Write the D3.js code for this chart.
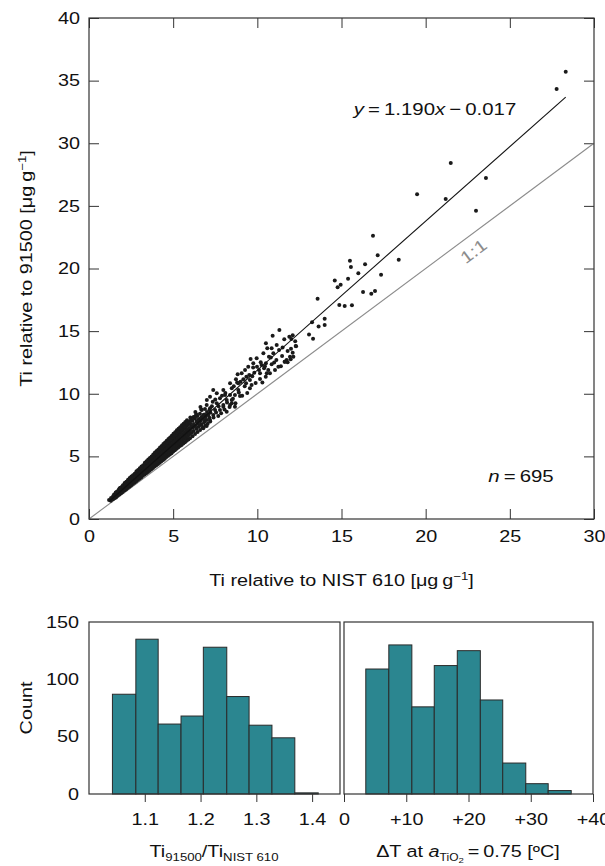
<!DOCTYPE html>
<html>
<head>
<meta charset="utf-8">
<script src="https://cdn.jsdelivr.net/npm/d3@7"></script>
<style>
  body { margin: 0; background: #fff; }
  svg { display: block; font-family: "Liberation Sans", Arial, Helvetica, sans-serif; }
</style>
</head>
<body>
<div id="chart"></div>
<script>
// Ti relative to NIST 610 (x) vs Ti relative to 91500 (y)
var scatterPoints = [
  // dense band at low concentration
  [1.19,1.52],[1.3,1.45],[1.31,1.68],[1.42,1.58],[1.43,1.82],[1.5,1.65],[1.49,1.95],[1.52,1.78],
  [1.6,1.72],[1.61,1.9],[1.59,2.12],[1.7,1.85],[1.69,2.05],[1.72,2.2],[1.8,1.95],[1.81,2.12],
  [1.79,2.36],[1.82,2.45],[1.9,2.05],[1.91,2.3],[1.88,2.5],[2.0,2.15],[2.01,2.36],[1.99,2.5],
  [2.02,2.7],[2.1,2.28],[2.11,2.5],[2.09,2.7],[2.12,2.88],[2.2,2.36],[2.21,2.6],[2.19,2.78],
  [2.22,2.98],[2.3,2.48],[2.31,2.72],[2.29,2.95],[2.32,3.14],[2.4,2.58],[2.41,2.85],[2.39,3.05],
  [2.42,3.28],[2.5,2.68],[2.51,2.9],[2.49,3.12],[2.52,3.4],[2.6,2.8],[2.61,3.06],[2.59,3.32],
  [2.62,3.5],[2.7,2.9],[2.71,3.15],[2.69,3.35],[2.72,3.62],[2.8,3.0],[2.81,3.3],[2.79,3.55],
  [2.82,3.82],[2.9,3.12],[2.91,3.38],[2.89,3.65],[2.92,3.92],[3.0,3.22],[3.01,3.5],[2.99,3.75],
  [3.02,4.05],[3.1,3.32],[3.11,3.62],[3.09,3.9],[3.12,4.2],[3.2,3.45],[3.21,3.75],[3.19,4.05],
  [3.22,4.3],[3.3,3.55],[3.31,3.9],[3.29,4.15],[3.32,4.5],[3.4,3.65],[3.41,3.98],[3.39,4.3],
  [3.42,4.62],[3.5,3.75],[3.51,4.1],[3.49,4.4],[3.52,4.75],[3.6,3.86],[3.61,4.2],[3.59,4.55],
  [3.62,4.88],[3.7,3.98],[3.71,4.35],[3.69,4.68],[3.72,5.0],[3.8,4.08],[3.81,4.45],[3.79,4.8],
  [3.82,5.15],[3.9,4.2],[3.91,4.58],[3.89,4.92],[3.92,5.3],[4.0,4.3],[4.01,4.7],[3.99,5.05],
  [4.02,5.42],[4.1,4.4],[4.11,4.82],[4.09,5.18],[4.12,5.55],[4.2,4.5],[4.21,4.95],[4.19,5.3],
  [4.22,5.7],[4.3,4.62],[4.31,5.05],[4.29,5.45],[4.32,5.82],[4.4,4.72],[4.41,5.2],[4.39,5.6],
  [4.42,5.98],[4.5,4.82],[4.51,5.3],[4.49,5.7],[4.52,6.1],[4.6,4.95],[4.61,5.45],[4.59,5.85],
  [4.62,6.25],[4.7,5.05],[4.71,5.55],[4.69,5.98],[4.72,6.38],[4.8,5.15],[4.81,5.68],[4.79,6.1],
  [4.82,6.5],[4.9,5.25],[4.91,5.8],[4.89,6.25],[4.92,6.65],[5.0,5.38],[5.01,5.92],[4.99,6.38],
  [5.02,6.8],[5.1,5.48],[5.11,6.05],[5.09,6.5],[5.12,6.92],[5.2,5.6],[5.21,6.15],[5.19,6.62],
  [5.22,7.08],[5.3,5.7],[5.31,6.28],[5.29,6.75],[5.32,7.2],[5.4,5.82],[5.41,6.4],[5.39,6.9],
  [5.42,7.32],[5.5,5.9],[5.51,6.5],[5.49,7.0],[5.52,7.48],[5.6,6.02],[5.61,6.62],[5.59,7.15],
  [5.62,7.6],[5.7,6.12],[5.71,6.75],[5.69,7.25],[5.72,7.75],[5.8,6.25],[5.81,6.85],[5.79,7.4],
  [5.82,7.88],[5.9,6.35],[5.91,6.98],[5.89,7.52],[6.0,6.45],[6.01,7.1],[5.99,7.65],[6.02,8.1],
  [6.15,6.6],[6.16,7.28],[6.14,7.85],[6.3,6.78],[6.31,7.45],[6.29,8.02],[6.32,8.55],[6.45,6.95],
  [6.46,7.62],[6.44,8.22],[6.6,7.1],[6.61,7.8],[6.59,8.4],[6.62,8.95],[6.75,7.28],[6.76,7.98],
  [6.9,7.45],[6.91,8.15],[6.89,8.78],[7.05,7.6],[7.06,8.32],[7.2,7.78],[7.21,8.5],
  [1.55,1.76],[1.56,1.9],[1.65,1.88],[1.66,2.02],[1.64,2.15],[1.75,1.98],[1.76,2.14],[1.74,2.28],
  [1.85,2.1],[1.86,2.26],[1.84,2.42],[1.95,2.2],[1.96,2.38],[1.94,2.56],[2.05,2.32],[2.06,2.5],
  [2.04,2.68],[2.15,2.43],[2.16,2.62],[2.14,2.82],[2.25,2.54],[2.26,2.75],[2.24,2.95],[2.35,2.66],
  [2.36,2.87],[2.34,3.08],[2.45,2.77],[2.46,2.99],[2.44,3.2],[2.55,2.88],[2.56,3.11],[2.54,3.34],
  [2.65,2.99],[2.66,3.23],[2.64,3.47],[2.75,3.1],[2.76,3.35],[2.74,3.6],[2.85,3.22],[2.86,3.48],
  [2.84,3.73],[2.95,3.33],[2.96,3.6],[2.94,3.86],[3.05,3.45],[3.06,3.72],[3.04,4.0],[3.15,3.56],
  [3.16,3.84],[3.14,4.13],[3.25,3.67],[3.26,3.96],[3.24,4.26],[3.35,3.78],[3.36,4.09],[3.34,4.39],
  [3.45,3.9],[3.46,4.21],[3.44,4.52],[3.55,4.01],[3.56,4.33],[3.54,4.65],[3.65,4.12],[3.66,4.45],
  [3.64,4.78],[3.75,4.24],[3.76,4.58],[3.74,4.91],[3.85,4.35],[3.86,4.7],[3.84,5.04],[3.95,4.46],
  [3.96,4.82],[3.94,5.17],[4.05,4.58],[4.06,4.94],[4.04,5.3],[4.15,4.69],[4.16,5.06],[4.14,5.44],
  [4.25,4.8],[4.26,5.19],[4.24,5.57],[4.35,4.92],[4.36,5.31],[4.34,5.7],[4.45,5.03],[4.46,5.43],
  [4.44,5.83],[4.55,5.14],[4.56,5.55],[4.54,5.96],[4.65,5.25],[4.66,5.67],[4.64,6.09],[4.75,5.37],
  [4.76,5.8],[4.74,6.22],[4.85,5.48],[4.86,5.92],[4.84,6.35],[4.95,5.59],[4.96,6.04],[4.94,6.48],
  [5.05,5.71],[5.06,6.16],[5.04,6.62],[5.15,5.82],[5.16,6.28],[5.14,6.75],[5.25,5.93],[5.26,6.41],
  [5.24,6.88],[5.35,6.05],[5.36,6.53],[5.34,7.01],[5.45,6.16],[5.46,6.65],[5.44,7.14],[5.55,6.27],
  [5.56,6.77],[5.54,7.27],[5.65,6.38],[5.66,6.89],[5.64,7.4],[5.75,6.5],[5.76,7.02],[5.74,7.53],
  [5.85,6.61],[5.86,7.14],[5.84,7.66],[5.95,6.72],[5.96,7.26],[5.94,7.79],[6.08,6.87],[6.09,7.42],
  [6.07,7.96],[6.22,7.03],[6.23,7.59],[6.21,8.15],[6.38,7.21],[6.39,7.78],[6.37,8.36],[6.52,7.37],
  [6.53,7.95],[6.68,7.55],[6.69,8.15],[6.67,8.75],[6.84,7.73],[6.85,8.35],[7.0,7.91],[7.01,8.54],
  [7.15,8.08],[7.16,8.72],
  // scattered middle range
  [7.4,8.1],[7.55,8.5],[7.7,9.0],[7.85,8.45],[8.05,8.75],[8.2,9.3],[8.35,8.95],[8.55,9.6],
  [8.7,9.25],[8.9,10.1],[9.1,9.85],[9.25,10.6],[9.4,10.05],[9.7,11.4],[9.9,10.85],[10.1,11.9],
  [10.3,10.9],[10.45,12.2],[10.8,12.9],[11.0,12.5],[11.4,12.2],[11.5,13.7],[12.0,13.6],[12.25,14.2],
  [7.9,9.85],[8.6,10.6],[9.0,10.95],[9.35,11.35],[9.75,12.1],[10.25,12.3],[6.6,8.0],[7.3,9.0],
  [7.0,9.5],[7.5,9.55],[8.1,10.05],[8.8,10.9],
  [11.31,15.09],[10.91,14.64],[11.9,14.56],[11.6,14.35],[10.51,14.03],[11.15,13.89],[10.85,13.63],
  [10.59,13.63],[11.29,13.49],[11.8,13.41],[12.1,13.28],[10.36,13.23],[10.95,13.23],[10.69,12.96],
  [11.47,13.01],[11.94,12.96],[11.13,12.69],[11.62,12.56],[9.96,12.83],[10.2,12.51],[10.51,12.43],
  [10.85,12.35],[11.25,12.16],[11.8,12.51],[9.6,12.77],[9.76,12.43],[9.46,12.16],[9.98,12.16],
  [10.4,12.03],[10.65,11.9],[11.05,11.9],[10.75,11.63],[10.16,11.63],[9.82,11.68],[9.27,11.9],
  [9.07,11.63],[9.52,11.5],[10.5,11.36],[10.16,11.18],[8.83,11.55],[9.17,11.15],[9.56,11.1],
  [8.73,11.15],[8.87,10.83],[9.33,10.83],[9.66,10.7],[9.56,10.44],[8.38,10.83],[8.48,10.44],
  [8.87,10.3],[7.98,10.3],[7.38,10.3],[7.59,10.04],[8.08,9.9],[8.38,9.9],[8.67,9.9],[8.97,9.82],
  [7.78,9.64],[8.18,9.5],[8.48,9.5],[7.19,9.76],[7.35,9.37],[7.59,9.24],[7.98,9.1],[8.38,9.1],
  [8.67,8.97],[6.99,9.1],[7.19,8.84],[7.49,8.7],[7.78,8.7],[8.18,8.57],[6.7,8.7],[6.79,8.3],
  [7.09,8.3],[7.38,8.3],[7.68,8.22],[6.3,8.17],[6.49,7.9],[6.89,7.9],[7.19,7.9],[6.0,7.64],
  [6.2,7.37],[6.59,7.5],[6.99,7.43],[5.7,7.37],[5.41,7.24],[6.79,7.24],
  [12.14,12.96],[11.74,12.69],[12.28,13.81],[10.56,11.63],[11.64,12.56],[11.98,12.75],
  [8.48,9.24],[7.98,8.97],
  // sparse upper range
  [12.1,14.67],[12.02,14.37],[12.3,13.79],[13.07,14.74],[13.31,14.4],[13.64,15.36],[14.0,15.49],
  [13.25,15.7],[14.0,15.99],[13.58,17.59],[14.87,17.09],[15.19,17.0],[15.62,17.06],[16.28,18.12],
  [16.77,17.99],[16.99,18.2],[14.77,18.5],[14.95,18.7],[14.6,19.05],[15.39,19.19],[17.35,19.5],
  [16.0,19.62],[15.56,20.12],[16.4,20.34],[15.5,20.62],[18.4,20.7],[17.15,21.05],[16.87,22.62],
  [19.49,25.92],[21.19,25.55],[22.99,24.62],[23.58,27.23],[21.49,28.42],[27.78,34.33],[28.32,35.71]
];
var fitSlope = 1.190;
var fitIntercept = -0.017;
var fitRange = [1.19, 28.32];
var sampleCount = 695;

var scatterXTicks = [0, 5, 10, 15, 20, 25, 30];
var scatterYTicks = [0, 5, 10, 15, 20, 25, 30, 35, 40];

// histogram of Ti(91500)/Ti(NIST 610)
var ratioEdges = [1.042, 1.084, 1.124, 1.165, 1.205, 1.247, 1.287, 1.328, 1.369, 1.411];
var ratioCounts = [87, 135, 61, 68, 128, 85, 60, 49, 1];
var ratioTicks = [1.1, 1.2, 1.3, 1.4];

// histogram of temperature shift
var dtEdges = [3.5, 7.2, 10.9, 14.5, 18.2, 21.9, 25.5, 29.2, 32.8, 36.5];
var dtCounts = [109, 130, 76, 112, 125, 82, 27, 9, 3];
var dtTicks = [0, 10, 20, 30, 40];

var countTicks = [0, 50, 100, 150];

var W = 605, H = 866;
var ink = '#111', frameColor = '#333', barColor = '#2b8690', oneToOneColor = '#8c8c8c';
var fontSize = 16.5;
var textStretch = 1.2;   // lettering in the figure runs wider than Arial

var svg = d3.select('#chart').append('svg')
    .attr('width', W).attr('height', H);

// ---------- scatter ----------
var sp = { left: 89, top: 18, width: 505, height: 501 };
var x = d3.scaleLinear().domain([0, 30]).range([sp.left, sp.left + sp.width]);
var y = d3.scaleLinear().domain([0, 40]).range([sp.top + sp.height, sp.top]);

function styleAxis(g, showLabels) {
  g.select('.domain').remove();
  g.selectAll('.tick line').attr('stroke', frameColor).attr('stroke-width', 1);
  g.selectAll('.tick text').attr('fill', ink).style('font-size', fontSize + 'px')
    .style('font-family', '"Liberation Sans", Arial, sans-serif');
  if (!showLabels) g.selectAll('.tick text').remove();
}

svg.append('g').attr('transform', 'translate(0,' + (sp.top + sp.height) + ')')
    .call(d3.axisBottom(x).tickValues(scatterXTicks).tickSize(-10).tickPadding(11))
    .call(styleAxis, true);
svg.append('g').attr('transform', 'translate(0,' + sp.top + ')')
    .call(d3.axisTop(x).tickValues(scatterXTicks).tickSize(-10))
    .call(styleAxis, false);
svg.append('g').attr('transform', 'translate(' + sp.left + ',0)')
    .call(d3.axisLeft(y).tickValues(scatterYTicks).tickSize(-10).tickPadding(9))
    .call(styleAxis, true);
svg.append('g').attr('transform', 'translate(' + (sp.left + sp.width) + ',0)')
    .call(d3.axisRight(y).tickValues(scatterYTicks).tickSize(-10))
    .call(styleAxis, false);

// 1:1 line
svg.append('line')
    .attr('x1', x(0)).attr('y1', y(0)).attr('x2', x(30)).attr('y2', y(30))
    .attr('stroke', oneToOneColor).attr('stroke-width', 1.1);

// points
svg.append('g').selectAll('circle')
    .data(scatterPoints)
  .enter().append('circle')
    .attr('cx', function(d) { return x(d[0]); })
    .attr('cy', function(d) { return y(d[1]); })
    .attr('r', 2)
    .attr('fill', '#1a1a1a');

// regression line
var fitLine = d3.line()
    .x(function(d) { return x(d); })
    .y(function(d) { return y(fitSlope * d + fitIntercept); });
svg.append('path').datum(fitRange)
    .attr('d', fitLine)
    .attr('fill', 'none').attr('stroke', '#111').attr('stroke-width', 1.1);

svg.append('rect')
    .attr('x', sp.left).attr('y', sp.top).attr('width', sp.width).attr('height', sp.height)
    .attr('fill', 'none').attr('stroke', frameColor).attr('stroke-width', 1.2);

// equation
var eq = svg.append('text').attr('x', 435).attr('y', 115).attr('text-anchor', 'middle')
    .attr('fill', ink).style('font-size', '17px');
eq.append('tspan').style('font-style', 'italic').text('y');
eq.append('tspan').text('\u2009=\u20091.190');
eq.append('tspan').style('font-style', 'italic').text('x');
eq.append('tspan').text('\u2009\u2212\u20090.017');

// n label
var nl = svg.append('text').attr('x', 521).attr('y', 482).attr('text-anchor', 'middle')
    .attr('fill', ink).style('font-size', '17px');
nl.append('tspan').style('font-style', 'italic').text('n');
nl.append('tspan').text('\u2009=\u2009' + sampleCount);

// 1:1 label
var angle = Math.atan2(y(30) - y(0), x(30) - x(0)) * 180 / Math.PI;
svg.append('text')
    .attr('transform', 'translate(477,256) rotate(' + angle + ')')
    .attr('text-anchor', 'middle')
    .attr('fill', oneToOneColor).style('font-size', '17px')
    .text('1:1');

// axis titles
function unitTitle(sel, prefix) {
  sel.append('tspan').text(prefix + ' [\u03bcg\u2009g');
  sel.append('tspan').attr('dy', -6).style('font-size', '11px').text('\u22121');
  sel.append('tspan').attr('dy', 6).text(']');
}
var xt = svg.append('text').attr('x', sp.left + sp.width / 2).attr('y', 586)
    .attr('text-anchor', 'middle').attr('fill', ink).style('font-size', fontSize + 'px');
unitTitle(xt, 'Ti relative to NIST 610');
var yt = svg.append('text').attr('transform', 'translate(32,' + (sp.top + sp.height / 2) + ') rotate(-90)')
    .attr('text-anchor', 'middle').attr('fill', ink).style('font-size', fontSize + 'px');
unitTitle(yt, 'Ti relative to 91500');

// ---------- histograms ----------
var hTop = 622, hBottom = 794;
var count = d3.scaleLinear().domain([0, 150]).range([hBottom, hTop]);

function histogram(left, right, domain, edges, counts, ticks, fmt) {
  var hx = d3.scaleLinear().domain(domain).range([left, right]);
  var bins = counts.map(function(c, i) { return { x0: edges[i], x1: edges[i + 1], n: c }; });
  svg.append('g').selectAll('rect')
      .data(bins)
    .enter().append('rect')
      .attr('x', function(d) { return hx(d.x0); })
      .attr('width', function(d) { return hx(d.x1) - hx(d.x0); })
      .attr('y', function(d) { return count(d.n); })
      .attr('height', function(d) { return hBottom - count(d.n); })
      .attr('fill', barColor).attr('stroke', '#2a2a2a').attr('stroke-width', 1);
  svg.append('rect')
      .attr('x', left).attr('y', hTop).attr('width', right - left).attr('height', hBottom - hTop)
      .attr('fill', 'none').attr('stroke', frameColor).attr('stroke-width', 1.2);
  svg.append('g').attr('transform', 'translate(0,' + hBottom + ')')
      .call(d3.axisBottom(hx).tickValues(ticks).tickSize(8).tickPadding(11).tickFormat(fmt))
      .call(styleAxis, true);
  return hx;
}

var h1 = histogram(89, 340, [1.0, 1.45], ratioEdges, ratioCounts, ratioTicks, d3.format('.1f'));
var h2 = histogram(344, 593, [0, 40], dtEdges, dtCounts, dtTicks,
    function(d) { return d === 0 ? '0' : '+' + d; });

svg.append('g').attr('transform', 'translate(89,0)')
    .call(d3.axisLeft(count).tickValues(countTicks).tickSize(0).tickPadding(10))
    .call(styleAxis, true);

svg.append('text').attr('transform', 'translate(32,' + ((hTop + hBottom) / 2) + ') rotate(-90)')
    .attr('text-anchor', 'middle').attr('fill', ink).style('font-size', fontSize + 'px')
    .text('Count');

var t1 = svg.append('text').attr('x', 214).attr('y', 857).attr('text-anchor', 'middle')
    .attr('fill', ink).style('font-size', fontSize + 'px');
t1.append('tspan').text('Ti');
t1.append('tspan').attr('dy', 4).style('font-size', '11px').text('91500');
t1.append('tspan').attr('dy', -4).text('/Ti');
t1.append('tspan').attr('dy', 4).style('font-size', '11px').text('NIST 610');

var t2 = svg.append('text').attr('x', 468).attr('y', 857).attr('text-anchor', 'middle')
    .attr('fill', ink).style('font-size', fontSize + 'px');
t2.append('tspan').text('\u0394T at ');
t2.append('tspan').style('font-style', 'italic').text('a');
t2.append('tspan').attr('dy', 4).style('font-size', '10px').text('TiO');
t2.append('tspan').attr('dy', 2).style('font-size', '8px').text('2');
t2.append('tspan').attr('dy', -6).text('\u2009=\u20090.75 [\u00baC]');

// widen every label along its own baseline, keeping its anchor point fixed
svg.selectAll('text').each(function() {
  var t = d3.select(this),
      ax = +t.attr('x') || 0,
      prev = t.attr('transform') || '';
  t.attr('transform', prev + ' translate(' + ax + ',0) scale(' + textStretch + ',1) translate(' + (-ax) + ',0)');
});
</script>
</body>
</html>
